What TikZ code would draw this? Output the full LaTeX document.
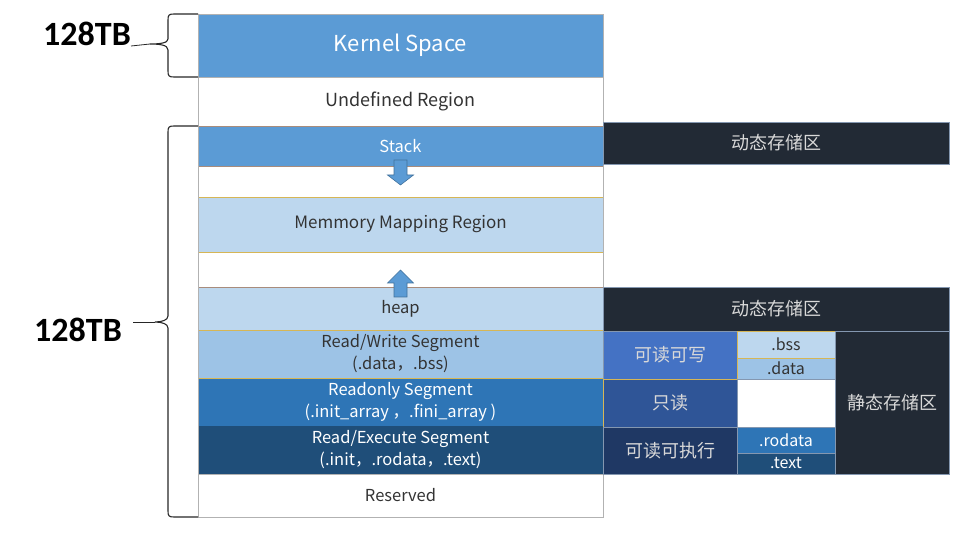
\documentclass[tikz,border=0pt]{standalone}
\usepackage{fontspec}
\setmainfont{Noto Sans CJK SC}
\newfontfamily\sizefont{Carlito}
\usetikzlibrary{positioning}

\definecolor{kernelblue}{HTML}{5B9BD5}
\definecolor{paleblue}{HTML}{BDD7EE}
\definecolor{rwblue}{HTML}{9DC3E6}
\definecolor{roblue}{HTML}{2E75B6}
\definecolor{rxblue}{HTML}{1F4E79}
\definecolor{darkslate}{HTML}{222A35}
\definecolor{rwattr}{HTML}{4472C4}
\definecolor{roattr}{HTML}{2F5597}
\definecolor{rxattr}{HTML}{1F3864}
\definecolor{goldline}{HTML}{D6B656}
\definecolor{brownline}{HTML}{A88C7C}
\definecolor{edgeline}{HTML}{8497B0}
\definecolor{arrowline}{HTML}{41719C}

\tikzset{
  seg/.style={draw=gray!60, minimum width=405pt, minimum height=48pt,
    inner sep=0pt, outer sep=0pt, align=center, text=black!80,
    font=\fontsize{16.5}{22}\selectfont},
  cell/.style={draw=edgeline, fill=darkslate, inner sep=0pt, outer sep=0pt,
    align=center, text=white!85!black, font=\fontsize{18}{20}\selectfont},
  subcell/.style={cell, minimum width=98pt, font=\fontsize{16}{17}\selectfont},
  growarrow/.style={draw=arrowline, fill=kernelblue, line width=0.6pt},
  bracket/.style={line width=1.1pt, black!85},
  sizelabel/.style={font=\sizefont\bfseries\fontsize{34}{36}\selectfont, inner sep=0pt}
}

\begin{document}
\begin{tikzpicture}[x=1pt,y=-1pt]
\useasboundingbox (0,0) rectangle (967,537);

% address space column
\node[seg, anchor=north west, fill=kernelblue, minimum height=63pt, text=white, font=\fontsize{22}{24}\selectfont] (kernel) at (198,14) {Kernel Space};
\node[seg, below=0pt of kernel, minimum height=49pt, font=\fontsize{18}{20}\selectfont] (undef) {Undefined Region};
\node[seg, below=0pt of undef, fill=kernelblue, draw=brownline, minimum height=40pt, text=white] (stack) {Stack};
\node[seg, below=31pt of stack, fill=paleblue, draw=goldline, minimum height=55pt, font=\fontsize{17}{20}\selectfont] (mmap) {Memmory Mapping Region};
\node[seg, below=35pt of mmap, fill=paleblue, draw=brownline, minimum height=43pt] (heap) {heap};
\node[seg, below=0pt of heap, fill=rwblue, draw=goldline] (rw) {Read/Write Segment\\(.data，.bss)};
\node[seg, below=0pt of rw, fill=roblue, draw=goldline, text=white] (ro) {Readonly Segment\\(.init\_array ，.fini\_array )};
\node[seg, below=0pt of ro, fill=rxblue, draw=rxblue, text=white] (rx) {Read/Execute Segment\\(.init，.rodata，.text)};
\node[seg, below=0pt of rx, minimum height=43pt] (reserved) {Reserved};
\draw[gray!60] (kernel.north west) rectangle (reserved.south east);

% growth arrows
\filldraw[growarrow] (stack.south) ++(-6.5,-6) -- ++(13,0) -- ++(0,15) -- ++(6.5,0) -- ++(-13,10) -- ++(-13,-10) -- ++(6.5,0) -- cycle;
\filldraw[growarrow] (heap.north) ++(-6.5,10) -- ++(0,-14) -- ++(-6.5,0) -- ++(13,-13) -- ++(13,13) -- ++(-6.5,0) -- ++(0,14) -- cycle;

% storage areas
\node[cell, anchor=north west, minimum width=346pt, minimum height=42pt] (dyntop) at (603,122) {动态存储区};
\node[cell, anchor=north west, minimum width=346pt, minimum height=44pt] (dynheap) at (heap.north east) {动态存储区};
\node[cell, anchor=north west, fill=rwattr, minimum width=134pt, minimum height=48pt] (rwattr) at (dynheap.south west) {可读可写};
\node[cell, below=0pt of rwattr, fill=roattr, draw=goldline, minimum width=134pt, minimum height=48pt] (roattr) {只读};
\node[cell, below=0pt of roattr, fill=rxattr, minimum width=134pt, minimum height=47pt] (rxattr) {可读可执行};
\node[subcell, anchor=north west, fill=paleblue, draw=goldline, text=black!80, minimum height=27pt] (bss) at (rwattr.north east) {.bss};
\node[subcell, below=0pt of bss, fill=rwblue, draw=goldline, text=black!80, minimum height=21pt] (data) {.data};
\node[subcell, below=0pt of data, fill=white, minimum height=48pt] (blank) {};
\node[subcell, below=0pt of blank, fill=roblue, text=white, minimum height=26pt] (rodata) {.rodata};
\node[subcell, below=0pt of rodata, fill=rxblue, text=white, minimum height=21pt] (textsec) {.text};
\node[cell, anchor=north west, minimum width=114pt, minimum height=143pt] (static) at (bss.north east) {静态存储区};

% size braces
\coordinate (toptip) at (150,44);
\node[sizelabel, anchor=base east] (toplabel) at (131,46) {128TB};
\draw[bracket] (kernel.north west) -- (174,14) .. controls (169,14) and (168,15) .. (168,20)
  -- (168,39) .. controls (168,43) and (160,44) .. (toptip)
  .. controls (160,44) and (168,45) .. (168,50)
  -- (168,71) .. controls (168,76) and (169,77) .. (174,77) -- (kernel.south west);
\draw[bracket, line width=0.8pt] (toplabel.base east) -- (toptip);

\coordinate (bottip) at (155,322);
\node[sizelabel, anchor=east] (botlabel) at (122,330) {128TB};
\draw[bracket] (undef.south west) -- (174,126) .. controls (169,126) and (168,127) .. (168,132)
  -- (168,316) .. controls (168,320) and (162,322) .. (bottip)
  .. controls (162,322) and (168,324) .. (168,328)
  -- (168,511) .. controls (168,516) and (169,517) .. (174,517) -- (reserved.south west);
\draw[bracket, line width=0.8pt, shorten <=11pt] (botlabel.east |- bottip) -- (bottip);

\end{tikzpicture}
\end{document}
